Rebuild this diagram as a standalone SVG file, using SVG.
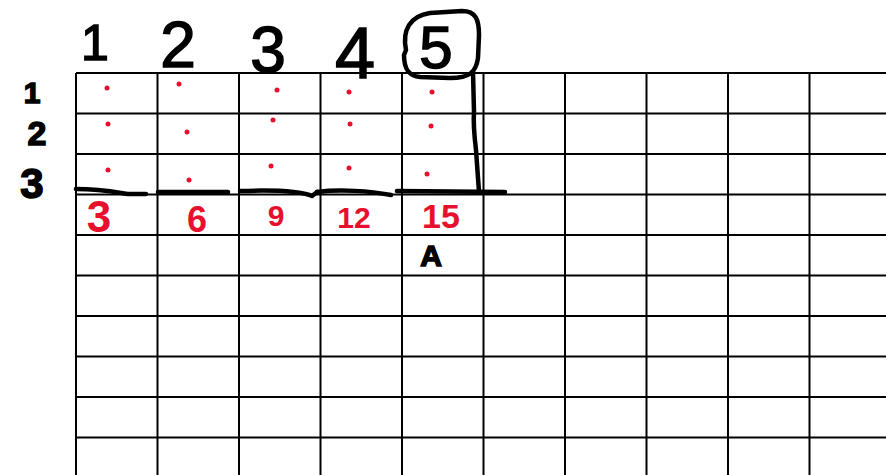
<svg xmlns="http://www.w3.org/2000/svg" width="886" height="475" viewBox="0 0 886 475">
<style>
.grid line{stroke:#000;stroke-width:2}
.ink{fill:none;stroke:#000;stroke-width:4.5;stroke-linecap:round;stroke-linejoin:round}
.blk{font-family:"Liberation Sans","DejaVu Sans",sans-serif;fill:#000;stroke:#000;stroke-width:1.5;text-anchor:middle}
.red{font-family:"Liberation Sans","DejaVu Sans",sans-serif;fill:#e8112d;text-anchor:middle;font-weight:bold}
.dot{fill:#e8112d}
</style>
<rect width="886" height="475" fill="#fff"/>
<g id="grid" class="grid">
<line x1="76" y1="73" x2="76" y2="475"/>
<line x1="157.5" y1="73" x2="157.5" y2="475"/>
<line x1="239" y1="73" x2="239" y2="475"/>
<line x1="320.5" y1="73" x2="320.5" y2="475"/>
<line x1="402" y1="73" x2="402" y2="475"/>
<line x1="483.5" y1="73" x2="483.5" y2="475"/>
<line x1="565" y1="73" x2="565" y2="475"/>
<line x1="646.5" y1="73" x2="646.5" y2="475"/>
<line x1="728" y1="73" x2="728" y2="475"/>
<line x1="809.5" y1="73" x2="809.5" y2="475"/>
<line x1="76" y1="73" x2="886" y2="73"/>
<line x1="76" y1="113.5" x2="886" y2="113.5"/>
<line x1="76" y1="154" x2="886" y2="154"/>
<line x1="76" y1="194.5" x2="886" y2="194.5"/>
<line x1="76" y1="235" x2="886" y2="235"/>
<line x1="76" y1="275.5" x2="886" y2="275.5"/>
<line x1="76" y1="316" x2="886" y2="316"/>
<line x1="76" y1="356.5" x2="886" y2="356.5"/>
<line x1="76" y1="397" x2="886" y2="397"/>
<line x1="76" y1="437.5" x2="886" y2="437.5"/>
</g>
<g id="column-labels">
<text class="blk" x="95" y="60" font-size="50">1</text>
<text class="blk" x="178" y="67" font-size="64">2</text>
<text class="blk" x="268" y="72" font-size="64">3</text>
<text class="blk" x="355" y="78" font-size="72">4</text>
<text class="blk" x="436" y="68" font-size="60">5</text>
</g>
<g id="circle-5">
<path class="ink" d="M406,50 C402,30 410,16 430,13 L462,11 C476,11 479,20 479,35 L478,58 C476,72 470,78 450,78 L420,77 C408,76 404,68 404,55 Z"/>
<path class="ink" d="M473,72 L474,112 Q473,125 476,150 L479,192"/>
</g>
<g id="row-labels">
<text class="blk" x="32" y="103" font-size="30" font-weight="bold">1</text>
<text class="blk" x="37" y="145" font-size="34" font-weight="bold">2</text>
<text class="blk" x="32" y="198" font-size="42" font-weight="bold">3</text>
</g>
<g id="dots">
<circle class="dot" cx="107" cy="88" r="2.5"/>
<circle class="dot" cx="108" cy="124" r="2.5"/>
<circle class="dot" cx="108" cy="170" r="2.5"/>
<circle class="dot" cx="179" cy="84" r="2.5"/>
<circle class="dot" cx="187" cy="132" r="2.5"/>
<circle class="dot" cx="189" cy="180" r="2.5"/>
<circle class="dot" cx="277" cy="90" r="2.5"/>
<circle class="dot" cx="273" cy="120" r="2.5"/>
<circle class="dot" cx="271" cy="166" r="2.5"/>
<circle class="dot" cx="349" cy="92" r="2.5"/>
<circle class="dot" cx="350" cy="124" r="2.5"/>
<circle class="dot" cx="349" cy="168" r="2.5"/>
<circle class="dot" cx="432" cy="92" r="2.5"/>
<circle class="dot" cx="431" cy="126" r="2.5"/>
<circle class="dot" cx="427" cy="174" r="2.5"/>
</g>
<g id="underlines">
<path class="ink" d="M76,189 C100,189 115,192 128,194 L146,194"/>
<path class="ink" d="M158,192 L228,192"/>
<path class="ink" d="M240,191 C270,190 298,190 312,196 L317,192"/>
<path class="ink" d="M317,192 C340,189 370,191 391,195"/>
<path class="ink" d="M397,191 L505,192"/>
</g>
<g id="totals">
<text class="red" x="99" y="232" font-size="44">3</text>
<text class="red" x="197" y="232" font-size="36">6</text>
<text class="red" x="276" y="226" font-size="30">9</text>
<text class="red" x="354" y="228" font-size="30">12</text>
<text class="red" x="441" y="228" font-size="34">15</text>
</g>
<g id="mark">
<text class="blk" x="431" y="266" font-size="30" font-weight="bold">A</text>
</g>
</svg>
